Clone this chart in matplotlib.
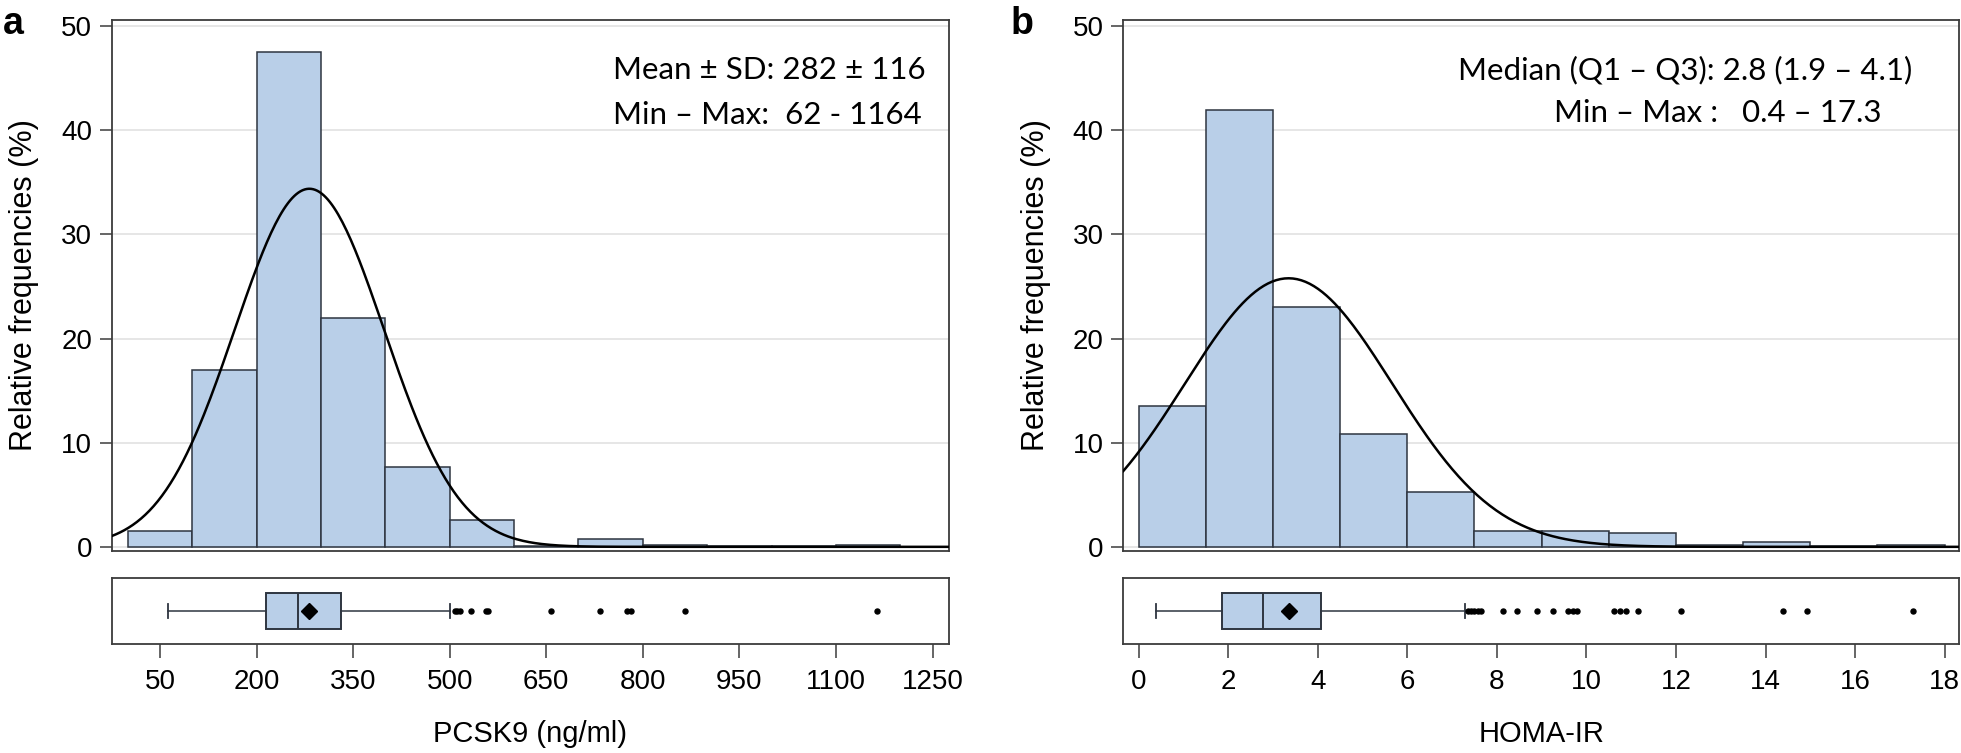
import matplotlib
matplotlib.use("Agg")
import matplotlib.pyplot as plt
import numpy as np

# panel a: PCSK9 (ng/ml)
pcsk9_edges = [0, 100, 200, 300, 400, 500, 600, 700, 800, 900, 1000, 1100]
pcsk9_freq = [1.5, 17.0, 47.5, 22.0, 7.7, 2.6, 0.1, 0.8, 0.2, 0.05, 0.05, 0.2]
pcsk9_binw = 100
pcsk9_mean, pcsk9_sd = 282, 116
pcsk9_stats = dict(whislo=62, q1=214, med=265, q3=331, whishi=500, mean=282)
pcsk9_fliers = [508, 512, 516, 533, 556, 560, 657, 733, 776, 782, 865, 1164]
pcsk9_ticks = [50, 200, 350, 500, 650, 800, 950, 1100, 1250]
pcsk9_text = ["Mean \u00b1 SD: 282 \u00b1 116", "Min \u2013 Max:  62 - 1164"]

# panel b: HOMA-IR
homa_edges = [0, 1.5, 3, 4.5, 6, 7.5, 9, 10.5, 12, 13.5, 15, 16.5]
homa_freq = [13.5, 42.0, 23.0, 10.8, 5.3, 1.5, 1.5, 1.3, 0.2, 0.45, 0.05, 0.15]
homa_binw = 1.5
homa_mean, homa_sd = 3.35, 2.32
homa_stats = dict(whislo=0.4, q1=1.86, med=2.77, q3=4.08, whishi=7.3, mean=3.36)
homa_fliers = [7.35, 7.42, 7.5, 7.58, 7.65, 8.14, 8.44, 8.9, 9.26, 9.6, 9.7, 9.8,
               10.62, 10.75, 10.88, 11.15, 12.12, 14.38, 14.93, 17.3]
homa_ticks = [0, 2, 4, 6, 8, 10, 12, 14, 16, 18]
homa_text = ["Median (Q1 \u2013 Q3): 2.8 (1.9 \u2013 4.1)", "Min \u2013 Max :   0.4 \u2013 17.3"]

fill = '#b9cfe8'
edge = '#2e3540'
spine = '#3c3c3c'
tick_font = {'family': 'Liberation Sans', 'size': 20}
label_font = {'family': 'Liberation Sans', 'size': 22}
note_font = {'family': 'Lato', 'size': 22.5}

W, H = 1961, 753
fig = plt.figure(figsize=(W / 100, H / 100), dpi=100)


def panel(x0, x1, edges, freq, binw, mean, sd, stats, fliers, ticks, xlim,
          xlabel, letter, letter_x, notes, note_pos):
    ax = fig.add_axes([x0 / W, 1 - 551 / H, (x1 - x0) / W, 531 / H])
    bx = fig.add_axes([x0 / W, 1 - 644 / H, (x1 - x0) / W, 66 / H])

    # histogram
    ax.bar(edges, freq, width=binw, align='edge', color=fill, edgecolor=edge,
           linewidth=1.1, zorder=2)
    xs = np.linspace(xlim[0], xlim[1], 400)
    pdf = 100 * binw / (sd * np.sqrt(2 * np.pi)) * np.exp(-0.5 * ((xs - mean) / sd) ** 2)
    ax.plot(xs, pdf, color='black', lw=1.8, zorder=3)
    ax.set_xlim(xlim)
    ax.set_ylim(-0.4, 50.6)
    ax.set_yticks([0, 10, 20, 30, 40, 50])
    ax.set_yticklabels([0, 10, 20, 30, 40, 50], **tick_font)
    ax.set_xticks([])
    ax.yaxis.grid(True, color='#e2e2e2', lw=1.2, zorder=0)
    ax.set_axisbelow(True)
    ax.tick_params(axis='y', length=9, width=1.1, color=spine, pad=5)
    ax.set_ylabel('Relative frequencies (%)', labelpad=16, **label_font)
    for s in ax.spines.values():
        s.set_color(spine)
        s.set_linewidth(1.3)

    # box plot strip
    st = dict(stats)
    st['fliers'] = fliers
    bx.bxp([st], positions=[0.5], widths=0.56, orientation='horizontal',
           showmeans=True, patch_artist=True, capwidths=0.22,
           boxprops=dict(facecolor=fill, edgecolor=edge, linewidth=1.4),
           medianprops=dict(color=edge, linewidth=1.4),
           whiskerprops=dict(color=edge, linewidth=1.1),
           capprops=dict(color=edge, linewidth=1.3),
           meanprops=dict(marker='D', markerfacecolor='black', markeredgecolor='black',
                          markersize=8),
           flierprops=dict(marker='o', markerfacecolor='black', markeredgecolor='black',
                           markersize=3.6))
    bx.set_xlim(xlim)
    bx.set_ylim(0, 1)
    bx.set_yticks([])
    bx.set_xticks(ticks)
    bx.set_xticklabels(ticks, **tick_font)
    bx.tick_params(axis='x', length=10, width=1.1, color=spine, pad=8)
    bx.set_xlabel(xlabel, labelpad=18, family='Liberation Sans', size=21)
    for s in bx.spines.values():
        s.set_color(spine)
        s.set_linewidth(1.3)

    fig.text(letter_x / W, 1 - 24 / H, letter, ha='center', va='center',
             fontsize=27, fontweight='bold', family='Liberation Sans')
    for txt, (tx, ty) in zip(notes, note_pos):
        fig.text(tx / W, 1 - ty / H, txt, ha='left', va='center', **note_font)


panel(111.7, 948.7, pcsk9_edges, pcsk9_freq, pcsk9_binw, pcsk9_mean, pcsk9_sd,
      pcsk9_stats, pcsk9_fliers, pcsk9_ticks, (-25, 1275), 'PCSK9 (ng/ml)',
      'a', 13, pcsk9_text, [(613, 70), (613, 115)])
panel(1123.3, 1959, homa_edges, homa_freq, homa_binw, homa_mean, homa_sd,
      homa_stats, homa_fliers, homa_ticks, (-0.34, 18.32), 'HOMA-IR',
      'b', 1022, homa_text, [(1458, 70), (1554, 113)])

fig.savefig('out.png', dpi=100)
